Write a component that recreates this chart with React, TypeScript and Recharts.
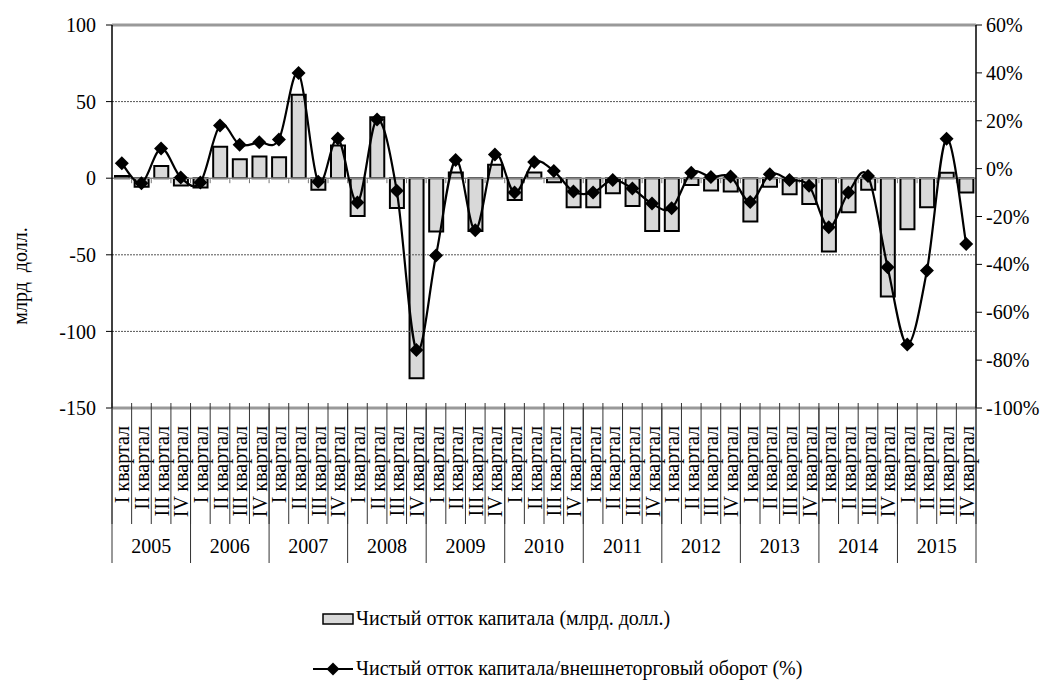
import {
  Bar,
  ComposedChart,
  Line,
  ReferenceLine,
  XAxis,
  YAxis,
} from "recharts";

const years = ["2005", "2006", "2007", "2008", "2009", "2010", "2011", "2012", "2013", "2014", "2015"];
const quarters = ["I квартал", "II квартал", "III квартал", "IV квартал"];

// чистый отток капитала, млрд долл.
const outflow = [
  1.5, -5.5, 8, -4.8,
  -6, 20.6, 12.4, 14.1,
  13.7, 54.4, -7.6, 21.3,
  -24.6, 39.8, -19.4, -130.5,
  -34.8, 3.7, -34.4, 8.7,
  -14.2, 3.7, -2.6, -18.9,
  -18.9, -9.8, -18.1, -34.4,
  -34.4, -4.4, -8, -8.7,
  -28.3, -5.5, -10.4, -16.8,
  -47.9, -22.2, -7.6, -77.3,
  -33.3, -18.9, 3.5, -9.3,
];

// отток / внешнеторговый оборот, %
const ratio = [
  2.2, -6.1, 8.4, -3.7,
  -5.8, 18, 10, 11,
  12.2, 39.9, -5.5, 12.6,
  -14.1, 20.5, -9.2, -75.8,
  -36.3, 3.6, -25.7, 5.9,
  -10, 2.8, -1, -9.6,
  -10, -4.7, -8.3, -14.6,
  -16.6, -1.7, -3.5, -3.3,
  -13.9, -2.4, -4.7, -7.2,
  -24.5, -10, -3.1, -41.2,
  -73.5, -42.6, 12.5, -31.5,
];

const leftTicks = [-150, -100, -50, 0, 50, 100];
const rightTicks = [-100, -80, -60, -40, -20, 0, 20, 40, 60];

const seriesNames = [
  "Чистый отток капитала (млрд. долл.)",
  "Чистый отток капитала/внешнеторговый оборот (%)",
];

const data = outflow.map((v, i) => ({
  key: i,
  quarter: quarters[i % 4],
  year: years[Math.floor(i / 4)],
  outflow: v,
  ratio: ratio[i],
}));

const W = 1052;
const H = 563;
const PLOT_LEFT = 112;
const PLOT_RIGHT = 976;
const PLOT_BOTTOM = 408;
const STEP = (PLOT_RIGHT - PLOT_LEFT) / data.length;
const FONT = "Liberation Serif, Times New Roman, serif";

// сглаживание как в Excel (Catmull-Rom)
function smoothCurve(context: any) {
  let pts: number[][] = [];
  return {
    areaStart() {},
    areaEnd() {},
    lineStart() {
      pts = [];
    },
    point(x: number, y: number) {
      pts.push([+x, +y]);
    },
    lineEnd() {
      const n = pts.length;
      if (!n) return;
      context.moveTo(pts[0][0], pts[0][1]);
      for (let i = 0; i < n - 1; i++) {
        const p0 = pts[Math.max(i - 1, 0)];
        const p1 = pts[i];
        const p2 = pts[i + 1];
        const p3 = pts[Math.min(i + 2, n - 1)];
        context.bezierCurveTo(
          p1[0] + (p2[0] - p0[0]) / 6,
          p1[1] + (p2[1] - p0[1]) / 6,
          p2[0] - (p3[0] - p1[0]) / 6,
          p2[1] - (p3[1] - p1[1]) / 6,
          p2[0],
          p2[1]
        );
      }
    },
  };
}

const Diamond = (props: any) => {
  const { cx, cy } = props;
  if (cx == null || cy == null) return null;
  const r = 7;
  return (
    <path
      d={`M${cx},${cy - r}L${cx + r},${cy}L${cx},${cy + r}L${cx - r},${cy}Z`}
      fill="#000"
    />
  );
};

const QuarterTick = (props: any) => {
  const { x, y, payload, index } = props;
  const left = x - STEP / 2;
  return (
    <g>
      <line x1={left} y1={PLOT_BOTTOM - 5} x2={left} y2={y + 108} stroke="#333" strokeWidth={1} />
      {index === data.length - 1 && (
        <line x1={x + STEP / 2} y1={PLOT_BOTTOM - 5} x2={x + STEP / 2} y2={y + 108} stroke="#333" strokeWidth={1} />
      )}
      <text
        x={0}
        y={0}
        transform={`translate(${x + 7.5},${y + 10}) rotate(-90)`}
        textAnchor="end"
        fontFamily={FONT}
        fontSize={20}
        fill="#000"
      >
        {payload.value}
      </text>
    </g>
  );
};

const YearTick = (props: any) => {
  const { x, y, payload, index } = props;
  if (index % 4 !== 0) return null;
  const left = x - STEP / 2;
  return (
    <g>
      <line x1={left} y1={PLOT_BOTTOM} x2={left} y2={y + 36} stroke="#333" strokeWidth={1} />
      {index === data.length - 4 && (
        <line x1={left + STEP * 4} y1={PLOT_BOTTOM} x2={left + STEP * 4} y2={y + 36} stroke="#333" strokeWidth={1} />
      )}
      <text
        x={left + STEP * 2}
        y={y + 22}
        textAnchor="middle"
        fontFamily={FONT}
        fontSize={20}
        fill="#000"
      >
        {payload.value}
      </text>
    </g>
  );
};

const ZeroAxis = (props: any) => {
  const { x1, x2, y1 } = props;
  if (x1 == null) return null;
  const marks = [];
  for (let i = 1; i < data.length; i++) {
    const x = x1 + ((x2 - x1) * i) / data.length;
    marks.push(<line key={i} x1={x} y1={y1} x2={x} y2={y1 + 5} stroke="#777" strokeWidth={1} />);
  }
  return (
    <g>
      <line x1={x1} y1={y1} x2={x2} y2={y1} stroke="#888" strokeWidth={1.5} />
      {marks}
    </g>
  );
};

const tickStyle = { fontFamily: FONT, fontSize: 20, fill: "#000" };

export default function App() {
  return (
    <div
      style={{
        position: "absolute",
        left: 0,
        top: 0,
        width: W,
        height: 680,
        background: "#fff",
        fontFamily: FONT,
      }}
    >
      <ComposedChart
        width={W}
        height={H}
        data={data}
        margin={{ top: 25, right: 0, bottom: 0, left: 0 }}
        barSize={14}
        style={{ fontFamily: FONT }}
      >
        <XAxis
          xAxisId="q"
          dataKey="key"
          interval={0}
          tickLine={false}
          axisLine={{ stroke: "#999", strokeWidth: 3 }}
          tick={(p: any) => <QuarterTick {...p} payload={{ value: data[p.index].quarter }} />}
          height={115}
        />
        <XAxis
          xAxisId="y"
          dataKey="key"
          interval={0}
          tickLine={false}
          axisLine={false}
          tick={(p: any) => <YearTick {...p} payload={{ value: data[p.index].year }} />}
          height={40}
        />
        <YAxis
          yAxisId="left"
          domain={[-150, 100]}
          ticks={leftTicks}
          interval={0}
          width={112}
          tick={tickStyle}
          tickLine={{ stroke: "#000" }}
          tickSize={6}
          tickMargin={10}
          axisLine={{ stroke: "#000", strokeWidth: 1.5 }}
          label={{
            content: () => (
              <text
                transform="translate(27,276) rotate(-90)"
                textAnchor="middle"
                fontFamily={FONT}
                fontSize={20}
                fill="#000"
                style={{ whiteSpace: "pre" }}
              >
                {"млрд  долл."}
              </text>
            ),
          }}
        />
        <YAxis
          yAxisId="right"
          orientation="right"
          domain={[-100, 60]}
          ticks={rightTicks}
          interval={0}
          width={76}
          tick={tickStyle}
          tickFormatter={(v: number) => `${v}%`}
          tickLine={{ stroke: "#000" }}
          tickSize={6}
          tickMargin={4}
          axisLine={{ stroke: "#000", strokeWidth: 1.5 }}
        />
        <ReferenceLine yAxisId="left" xAxisId="q" y={100} stroke="#999" strokeWidth={3} />
        {[50, -50, -100].map((v) => (
          <ReferenceLine
            key={v}
            yAxisId="left"
            xAxisId="q"
            y={v}
            stroke="#555"
            strokeWidth={1}
            strokeDasharray="2 1"
          />
        ))}
        <ReferenceLine yAxisId="left" xAxisId="q" y={0} shape={(p: any) => <ZeroAxis {...p} />} />
        <Bar
          yAxisId="left"
          xAxisId="q"
          dataKey="outflow"
          name={seriesNames[0]}
          fill="#d9d9d9"
          stroke="#000"
          strokeWidth={2}
          isAnimationActive={false}
        />
        <Line
          yAxisId="right"
          xAxisId="q"
          dataKey="ratio"
          name={seriesNames[1]}
          type={smoothCurve as any}
          stroke="#000"
          strokeWidth={2.2}
          dot={(p: any) => <Diamond key={p.index} {...p} />}
          activeDot={false}
          isAnimationActive={false}
        />
      </ComposedChart>
      <svg
        width={W}
        height={680 - H}
        style={{ position: "absolute", left: 0, top: H }}
      >
        <g transform={`translate(0,${-H})`}>
          <rect x={323} y={614} width={30} height={10} fill="#d9d9d9" stroke="#000" strokeWidth={1.5} />
          <text x={356} y={625} fontFamily={FONT} fontSize={20} fill="#000">
            {seriesNames[0]}
          </text>
          <line x1={313} y1={669} x2={353} y2={669} stroke="#000" strokeWidth={2} />
          <path d="M333,662.5L339.5,669L333,675.5L326.5,669Z" fill="#000" />
          <text x={356} y={675} fontFamily={FONT} fontSize={20} fill="#000">
            {seriesNames[1]}
          </text>
        </g>
      </svg>
    </div>
  );
}
